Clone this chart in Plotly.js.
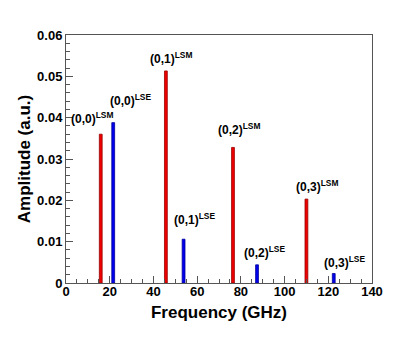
<!DOCTYPE html>
<html>
<head>
<meta charset="utf-8">
<script src="https://cdn.plot.ly/plotly-3.0.1.min.js"></script>
<style>
  html, body { margin: 0; padding: 0; background: #fff; }
  #chart { width: 414px; height: 341px; }
</style>
</head>
<body>
<div id="chart"></div>
<script>
// LSM modes (red) and LSE modes (blue)
let lsm_freq = [15.9, 45.7, 76.4, 110.0];
let lsm_amp = [0.0360, 0.0513, 0.0328, 0.0203];
let lsm_names = ["(0,0)", "(0,1)", "(0,2)", "(0,3)"];

let lse_freq = [21.6, 53.8, 87.4, 122.5];
let lse_amp = [0.0388, 0.0106, 0.0044, 0.0023];
let lse_names = ["(0,0)", "(0,1)", "(0,2)", "(0,3)"];

// where each label sits (data units)
let lsm_label_x = [11.8, 48.0, 79.2, 114.8];
let lsm_label_y = [0.0399, 0.0544, 0.0373, 0.0235];
let lse_label_x = [29.3, 58.6, 90.6, 127.6];
let lse_label_y = [0.0443, 0.0155, 0.0075, 0.0051];

const font_name = "Liberation Sans, Arial, sans-serif";

function makeTrace(x, y, color, edge) {
    return {
        x: x,
        y: y,
        type: 'bar',
        width: 1.3,
        marker: { color: color, line: { color: edge, width: 0.8 } },
        hoverinfo: 'skip',
        showlegend: false
    };
}

function makeLabels(names, xs, ys, tag) {
    return names.map((n, i) => ({
        x: xs[i],
        y: ys[i],
        xref: 'x',
        yref: 'y',
        text: '<b>' + n + '<sup>' + tag + '</sup></b>',
        showarrow: false,
        xanchor: 'center',
        yanchor: 'middle',
        font: { family: font_name, size: 12, color: '#000' }
    }));
}

let data = [
    makeTrace(lsm_freq, lsm_amp, '#ee0000', '#990000'),
    makeTrace(lse_freq, lse_amp, '#0000ee', '#000099')
];

let axis_common = {
    showgrid: false,
    zeroline: false,
    ticks: 'inside',
    ticklen: 7,
    tickwidth: 1,
    tickcolor: '#555',
    showline: true,
    linecolor: '#555',
    linewidth: 1,
    mirror: true,
    tickfont: { family: font_name, size: 13, color: '#000', weight: 'bold' }
};

let layout = {
    width: 414,
    height: 341,
    margin: { l: 66, r: 42, t: 35, b: 58 },
    paper_bgcolor: '#fff',
    plot_bgcolor: '#fff',
    font: { family: font_name, color: '#000' },
    xaxis: Object.assign({}, axis_common, {
        range: [0, 140],
        dtick: 20,
        tick0: 0,
        ticklabelstandoff: -4,
        minor: { dtick: 5, ticks: 'inside', ticklen: 4, tickcolor: '#555' },
        title: { text: '<b>Frequency (GHz)</b>', font: { family: font_name, size: 17 }, standoff: 8 }
    }),
    yaxis: Object.assign({}, axis_common, {
        range: [0, 0.06],
        dtick: 0.01,
        tick0: 0,
        tickformat: '.2~f',
        minor: { dtick: 0.002, ticks: 'inside', ticklen: 4, tickcolor: '#555' },
        title: { text: '<b>Amplitude (a.u.)</b>', font: { family: font_name, size: 17 }, standoff: 2 }
    }),
    annotations: makeLabels(lsm_names, lsm_label_x, lsm_label_y, 'LSM')
        .concat(makeLabels(lse_names, lse_label_x, lse_label_y, 'LSE'))
};

Plotly.newPlot('chart', data, layout, { displayModeBar: false, staticPlot: true });
</script>
</body>
</html>
